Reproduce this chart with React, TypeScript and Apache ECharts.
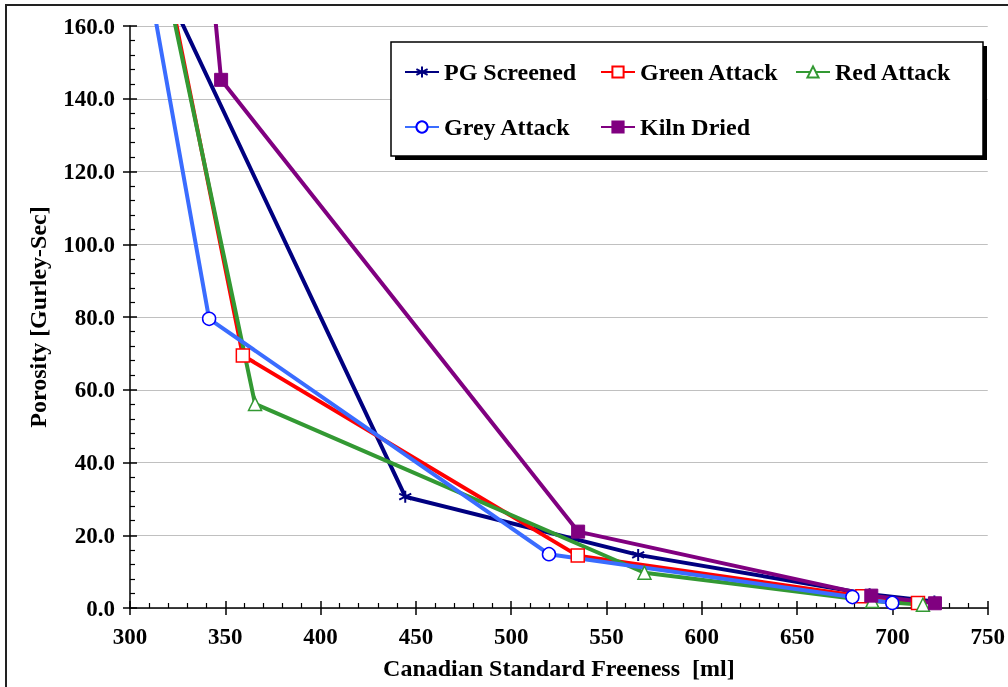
import React, { useEffect, useRef } from "react";
import * as echarts from "echarts";

const FONT = "Liberation Serif";

const seriesNames = ["PG Screened", "Green Attack", "Red Attack", "Grey Attack", "Kiln Dried"];

const pgX = [310, 444.4, 566.6, 688, 722];
const pgY = [180, 30.6, 14.6, 3.8, 1.8];
const greenAttackX = [316.8, 359.2, 534.9, 684.2, 713.4];
const greenAttackY = [180, 69.4, 14.4, 3.2, 1.4];
const redAttackX = [315.8, 365.6, 569.9, 689.4, 716.0];
const redAttackY = [180, 56.1, 9.7, 1.9, 0.9];
const greyAttackX = [307.2, 341.5, 519.8, 679.0, 699.9];
const greyAttackY = [180, 79.5, 14.8, 3.0, 1.4];
const kilnX = [341.5, 347.8, 535.1, 688.9, 722.3];
const kilnY = [180, 145.2, 21.0, 3.4, 1.3];

const xTitle = "Canadian Standard Freeness  [ml]";
const yTitle = "Porosity [Gurley-Sec]";

const pair = (xs: number[], ys: number[]) => xs.map((x, i) => [x, ys[i]]);

const ASTERISK = "path://M0,-10L0,10M-8.66,-5L8.66,5M-8.66,5L8.66,-5";

export default function App() {
  const ref = useRef<HTMLDivElement>(null);
  useEffect(() => {
    if (!ref.current) return;
    const chart = echarts.init(ref.current, undefined, { renderer: "svg" });
    const mkLine = (
      name: string,
      data: number[][],
      color: string,
      symbol: string,
      symbolSize: number,
      itemStyle: any
    ) => ({
      type: "line",
      name,
      data,
      xAxisIndex: 0,
      yAxisIndex: 0,
      clip: true,
      symbol,
      symbolSize,
      showAllSymbol: true,
      lineStyle: { color, width: 4 },
      itemStyle,
    });
    const legendCommon = {
      padding: 0,
      itemWidth: 34,
      itemHeight: 14,
      itemGap: 0,
      selectedMode: false,
      z: 6,
      textStyle: { fontFamily: FONT, fontWeight: "bold", fontSize: 24, color: "#000" },
    };
    const axisTickStyle = { color: "#000", width: 1.5 };
    const option: any = {
      animation: false,
      grid: { left: 130, right: 16, top: 26, bottom: 79, containLabel: false },
      xAxis: [
        {
          type: "value",
          min: 300,
          max: 750,
          interval: 50,
          position: "bottom",
          name: xTitle,
          nameLocation: "middle",
          nameGap: 48,
          nameTextStyle: { fontFamily: FONT, fontWeight: "bold", fontSize: 24, color: "#000" },
          axisLine: { show: true, lineStyle: { color: "#000", width: 1.5 } },
          axisTick: { show: true, inside: true, length: 7, lineStyle: axisTickStyle },
          minorTick: { show: true, splitNumber: 5, length: 5, lineStyle: { color: "#000", width: 1.2 } },
          axisLabel: { fontFamily: FONT, fontWeight: "bold", fontSize: 23, margin: 17, color: "#000" },
          splitLine: { show: false },
        },
        {
          type: "value",
          min: 300,
          max: 750,
          interval: 50,
          position: "bottom",
          offset: 0,
          axisLine: { show: false },
          axisTick: { show: true, inside: false, length: 7, lineStyle: axisTickStyle },
          axisLabel: { show: false },
          splitLine: { show: false },
        },
      ],
      yAxis: [
        {
          type: "value",
          min: 0,
          max: 160,
          interval: 20,
          position: "left",
          name: yTitle,
          nameLocation: "middle",
          nameGap: 80,
          nameRotate: 90,
          nameTextStyle: { fontFamily: FONT, fontWeight: "bold", fontSize: 24, color: "#000" },
          axisLine: { show: true, lineStyle: { color: "#000", width: 1.5 } },
          axisTick: { show: true, inside: true, length: 7, lineStyle: axisTickStyle },
          minorTick: { show: true, splitNumber: 5, length: 5, lineStyle: { color: "#000", width: 1.2 } },
          axisLabel: { fontFamily: FONT, fontWeight: "bold", fontSize: 23, margin: 15, color: "#000", formatter: (v: number) => v.toFixed(1) },
          splitLine: { show: true, lineStyle: { color: "#c0c0c0", width: 1 } },
        },
        {
          type: "value",
          min: 0,
          max: 160,
          interval: 20,
          position: "left",
          offset: 0,
          axisLine: { show: false },
          axisTick: { show: true, inside: false, length: 7, lineStyle: axisTickStyle },
          axisLabel: { show: false },
          splitLine: { show: false },
        },
      ],
      legend: [
        { ...legendCommon, data: [seriesNames[0]], left: 404, top: 60 },
        { ...legendCommon, data: [seriesNames[1]], left: 600, top: 60 },
        { ...legendCommon, data: [seriesNames[2]], left: 795, top: 60 },
        { ...legendCommon, data: [seriesNames[3]], left: 404, top: 115 },
        { ...legendCommon, data: [seriesNames[4]], left: 600, top: 115 },
      ],
      graphic: {
        elements: [
          {
            type: "rect",
            z: 0,
            shape: { x: 6, y: 5, width: 1100, height: 800 },
            style: { fill: "none", stroke: "#222", lineWidth: 2 },
            silent: true,
          },
          {
            type: "rect",
            z: 4,
            shape: { x: 395, y: 46, width: 592, height: 114 },
            style: { fill: "#000" },
            silent: true,
          },
          {
            type: "rect",
            z: 5,
            shape: { x: 391, y: 42, width: 592, height: 114 },
            style: { fill: "#fff", stroke: "#000", lineWidth: 1.5 },
            silent: true,
          },
        ],
      },
      series: [
        mkLine(seriesNames[0], pair(pgX, pgY), "#000080", ASTERISK, 12, {
          color: "#000080",
          borderColor: "#000080",
          borderWidth: 2,
        }),
        mkLine(seriesNames[1], pair(greenAttackX, greenAttackY), "#ff0000", "rect", 13, {
          color: "#ffffff",
          borderColor: "#ff0000",
          borderWidth: 1.5,
        }),
        mkLine(seriesNames[2], pair(redAttackX, redAttackY), "#339933", "triangle", 13, {
          color: "#ffffff",
          borderColor: "#339933",
          borderWidth: 1.5,
        }),
        mkLine(seriesNames[3], pair(greyAttackX, greyAttackY), "#3a6cff", "circle", 13, {
          color: "#ffffff",
          borderColor: "#0000ff",
          borderWidth: 1.5,
        }),
        mkLine(seriesNames[4], pair(kilnX, kilnY), "#800080", "rect", 13, {
          color: "#800080",
          borderColor: "#800080",
          borderWidth: 1,
        }),
      ],
    };
    chart.setOption(option);
    return () => chart.dispose();
  }, []);
  return (
    <div
      ref={ref}
      style={{ position: "fixed", left: 0, top: 0, width: 1008, height: 687 }}
    />
  );
}
